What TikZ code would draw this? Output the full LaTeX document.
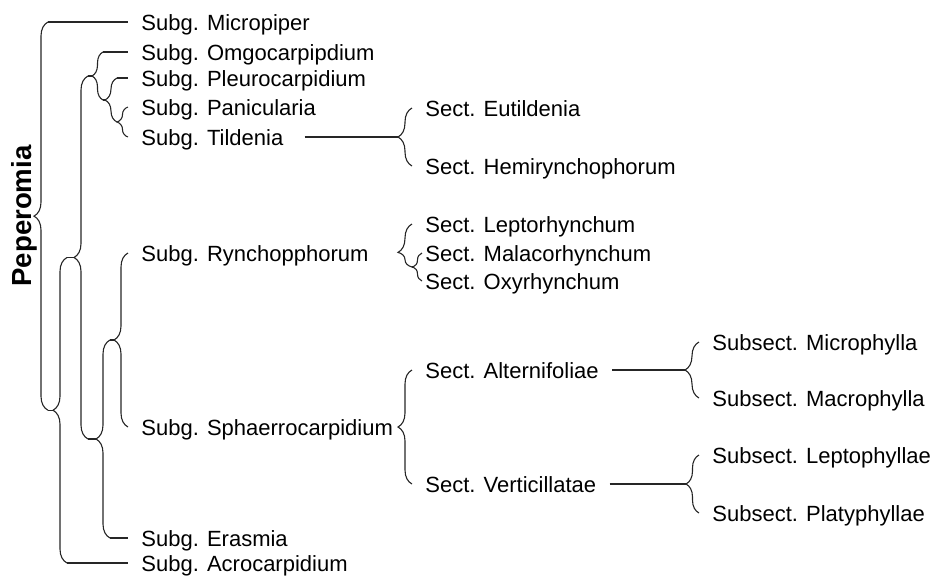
\documentclass[tikz,border=0pt]{standalone}
\usepackage{fontspec}
\setmainfont{Liberation Sans}
\usetikzlibrary{calc,decorations.pathreplacing}
\colorlet{trazo}{black!85}
\tikzset{
  taxon/.style={anchor=west,inner xsep=6.5pt,inner ysep=0pt,text height=8pt,text depth=0pt,
    font=\fontsize{11}{13}\selectfont},
  rama/.style={draw=trazo,line width=0.55pt},
  llave/.style={rama,decorate,decoration={brace,amplitude=7pt}},
}
% llave: [amplitud]{punta}{hijo arriba}{hijo abajo}
\newcommand{\llave}[4][7pt]{%
  \path let \p1=(#2), \p2=(#3), \p3=(#4) in
    (\x1+#1,\y2) coordinate (#2o) (\x1+#1,\y3) coordinate (#2u);
  \draw[llave,decoration={amplitude=#1}] (#2u) -- (#2o);
}

\begin{document}
\begin{tikzpicture}[x=0.5pt,y=-0.5pt]
    \useasboundingbox (0,0) rectangle (933,580);
    \node[rotate=90,anchor=base,font=\fontsize{13.8}{16}\selectfont\bfseries] (pep) at (32,216) {Peperomia};
    % subgeneros
    \node[taxon] (micro) at (128,22) {Subg. Micropiper};
    \node[taxon] (omgo) at (128,52) {Subg. Omgocarpipdium};
    \node[taxon] (pleuro) at (128,78) {Subg. Pleurocarpidium};
    \node[taxon] (panic) at (128,107) {Subg. Panicularia};
    \node[taxon] (tilde) at (128,137) {Subg. Tildenia};
    \node[taxon] (rynch) at (128,253) {Subg. Rynchopphorum};
    \node[taxon] (sphaer) at (128,427) {Subg. Sphaerrocarpidium};
    \node[taxon] (erasm) at (128,538) {Subg. Erasmia};
    \node[taxon] (acro) at (128,563) {Subg. Acrocarpidium};
    % secciones
    \node[taxon] (eutil) at (412,108) {Sect. Eutildenia};
    \node[taxon] (hemi) at (412,166) {Sect. Hemirynchophorum};
    \node[taxon] (lepto) at (412,224) {Sect. Leptorhynchum};
    \node[taxon] (malaco) at (412,253) {Sect. Malacorhynchum};
    \node[taxon] (oxy) at (412,281) {Sect. Oxyrhynchum};
    \node[taxon] (alter) at (412,370) {Sect. Alternifoliae};
    \node[taxon] (verti) at (412,484) {Sect. Verticillatae};
    % subsecciones
    \node[taxon] (micph) at (699,342) {Subsect. Microphylla};
    \node[taxon] (macph) at (699,398) {Subsect. Macrophylla};
    \node[taxon] (leptph) at (699,455) {Subsect. Leptophyllae};
    \node[taxon] (platy) at (699,513) {Subsect. Platyphyllae};
    % puntas de las llaves
    \coordinate (tA) at (34,216.125);
    \coordinate (tB) at (53,410.25);
    \coordinate (tC) at (74,257.5);
    \coordinate (tD) at (92,76);
    \coordinate (tF) at (105,100);
    \coordinate (tG) at (117,122);
    \coordinate (tE) at (96,439);
    \coordinate (tH) at (114,340);
    \coordinate (tT) at (398,137);
    \coordinate (tI) at (398,245.5);
    \coordinate (tJ) at (413,267);
    \coordinate (tS) at (398,427);
    \coordinate (tAl) at (685,370);
    \coordinate (tV) at (686,484);
    % llaves
    \llave{tA}{micro}{tB}
    \llave{tB}{tC}{acro}
    \llave{tC}{tD}{tE}
    \llave[5.5pt]{tD}{omgo}{tF}
    \llave[6pt]{tF}{pleuro}{tG}
    \llave[5.5pt]{tG}{panic}{tilde}
    \llave{tE}{tH}{erasm}
    \llave{tH}{rynch}{sphaer}
    \llave{tT}{eutil}{hemi}
    \begin{scope}[llave/.append style={decoration={aspect=0.34}}]
      \llave{tI}{lepto}{tJ}
    \end{scope}
    \llave[4.5pt]{tJ}{malaco}{oxy}
    \llave{tS}{alter}{verti}
    \llave{tAl}{micph}{macph}
    \llave[6.5pt]{tV}{leptph}{platy}
    % ramas
    \draw[rama] (tAo) -- (micro); \draw[rama] (tAu) -- (tB);
    \draw[rama] (tBo) -- (tC); \draw[rama] (tBu) -- (acro);
    \draw[rama] (tCo) -- (tD); \draw[rama] (tCu) -- (tE);
    \draw[rama] (tDo) -- (omgo); \draw[rama] (tDu) -- (tF);
    \draw[rama] (tFo) -- (pleuro);
    \draw[rama] (tEo) -- (tH); \draw[rama] (tEu) -- (erasm);
    \draw[rama] (tIu) -- (tJ);
    \draw[rama,shorten <=4pt] (tilde) -- (tT);
    \draw[rama] (alter) -- (tAl); \draw[rama] (verti) -- (tV);
\end{tikzpicture}
\end{document}
